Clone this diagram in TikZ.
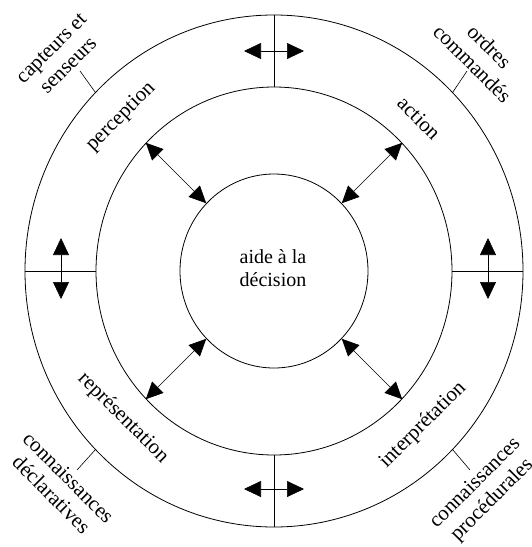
\documentclass[tikz,border=0pt]{standalone}
\usepackage{fontspec}
\setmainfont{Liberation Serif}
\usetikzlibrary{shapes.geometric,arrows.meta}
\begin{document}
\begin{tikzpicture}[x=1pt,y=-1pt,
  ring/.style={draw,ellipse,inner sep=0pt,line width=0.8pt},
  sepline/.style={line width=0.6pt},
  dbl/.style={line width=0.6pt,{Triangle[length=17pt,width=16pt]}-{Triangle[length=17pt,width=16pt]}},
  lab/.style={font=\fontsize{21}{24}\selectfont,align=center,inner sep=0pt}]
\useasboundingbox (0,0) rectangle (531,547);
\node[ring,minimum width=498pt,minimum height=512pt] (outer) at (274,271) {};
\node[ring,minimum width=356pt,minimum height=368pt] (mid) at (274,271) {};
\node[ring,minimum width=188pt,minimum height=194pt] (inner) at (274,271) {};
\node[lab,font=\fontsize{20}{23}\selectfont] (centre) at (273,268) {aide à la\\décision};
% dividers in the outer ring
\draw[sepline] (outer.north) -- (mid.north);
\draw[sepline] (outer.south) -- (mid.south);
\draw[sepline] (outer.west) -- (mid.west);
\draw[sepline] (outer.east) -- (mid.east);
% arrows in the outer ring
\coordinate (tA) at (244,51); \coordinate (tB) at (304,51);
\coordinate (bA) at (244,489); \coordinate (bB) at (304,489);
\coordinate (lA) at (61,238); \coordinate (lB) at (61,299);
\coordinate (rA) at (488,238); \coordinate (rB) at (488,299);
\draw[dbl] (tA) -- (tB);
\draw[dbl] (bA) -- (bB);
\draw[dbl] (lA) -- (lB);
\draw[dbl] (rA) -- (rB);
% diagonal arrows
\draw[dbl] (mid.135) -- (inner.135);
\draw[dbl] (mid.45) -- (inner.45);
\draw[dbl] (mid.225) -- (inner.225);
\draw[dbl] (mid.315) -- (inner.315);
% ticks
\coordinate (k1) at (80,71); \coordinate (k2) at (467,71);
\coordinate (k3) at (77,470); \coordinate (k4) at (470,470);
\draw[sepline] (outer.135) -- (k1);
\draw[sepline] (outer.45) -- (k2);
\draw[sepline] (outer.225) -- (k3);
\draw[sepline] (outer.315) -- (k4);
% labels
\node[lab,rotate=45] (perc) at (121,117) {perception};
\node[lab,rotate=45] (capt) at (60,57) {capteurs et\\senseurs};
\node[lab,rotate=-45] (act) at (419,118) {action};
\node[lab,rotate=-45] (ord) at (481,55) {ordres\\commandés};
\node[lab,rotate=-45] (repr) at (123,418) {représentation};
\node[lab,rotate=-45] (decl) at (60,486) {connaissances\\déclaratives};
\node[lab,rotate=45] (interp) at (423,425) {interprétation};
\node[lab,rotate=45] (proc) at (484,492) {connaissances\\procédurales};
\end{tikzpicture}
\end{document}
